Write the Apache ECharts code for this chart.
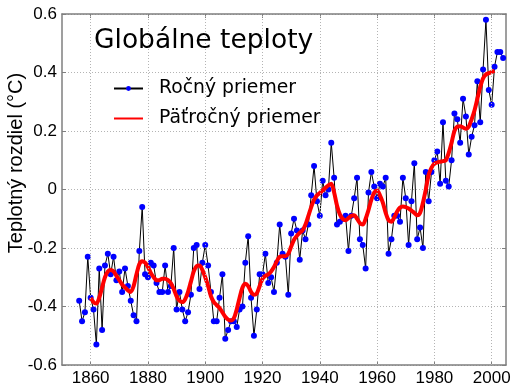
<!DOCTYPE html>
<html><head><meta charset="utf-8">
<script src="https://cdn.jsdelivr.net/npm/echarts@6/dist/echarts.min.js"></script>
<style>html,body{margin:0;padding:0;background:#fff}#c{width:525px;height:390px}</style>
</head><body><div id="c"></div>
<script>
const titleText = 'Globálne teploty';
const yAxisTitle = 'Teplotný rozdiel (°C)';
const seriesNames = ['Ročný priemer', 'Päťročný priemer'];
const xTickYears = [1860, 1880, 1900, 1920, 1940, 1960, 1980, 2000];

// annual means, 1856..2004
const annualStart = 1856;
const annual = [
  -0.38, -0.45, -0.42, -0.23,
  -0.37, -0.41, -0.53, -0.27, -0.48, -0.26, -0.22, -0.29, -0.23, -0.31,
  -0.28, -0.35, -0.27, -0.33, -0.38, -0.43, -0.45, -0.21, -0.06, -0.29,
  -0.30, -0.25, -0.26, -0.32, -0.35, -0.35, -0.26, -0.35, -0.33, -0.20,
  -0.41, -0.35, -0.41, -0.45, -0.42, -0.36, -0.20, -0.19, -0.34, -0.25,
  -0.19, -0.26, -0.35, -0.45, -0.45, -0.37, -0.29, -0.51, -0.48, -0.45,
  -0.45, -0.47, -0.41, -0.40, -0.25, -0.16, -0.37, -0.50, -0.41, -0.29,
  -0.29, -0.22, -0.32, -0.30, -0.35, -0.25, -0.12, -0.22, -0.23, -0.36,
  -0.15, -0.10, -0.14, -0.24, -0.14, -0.17, -0.12, -0.02, 0.08, -0.04,
  -0.09, 0.03, -0.02, 0.00, 0.16, 0.04, -0.12, -0.11, -0.10, -0.09,
  -0.21, -0.09, -0.03, 0.04, -0.17, -0.19, -0.27, -0.01, 0.06, 0.01,
  -0.03, 0.02, 0.01, 0.04, -0.22, -0.17, -0.09, -0.09, -0.11, 0.04,
  -0.03, -0.19, -0.04, 0.09, -0.17, -0.13, -0.20, 0.06, -0.04, 0.06,
  0.10, 0.13, 0.02, 0.23, 0.03, 0.01, 0.10, 0.26, 0.24, 0.16,
  0.31, 0.25, 0.12, 0.18, 0.22, 0.37, 0.23, 0.41, 0.58, 0.34,
  0.29, 0.42, 0.47, 0.47, 0.45
];

// five-year mean, 1860..2001
const smoothStart = 1860;
const fiveYear = [
  -0.37, -0.385, -0.39, -0.37, -0.335, -0.30, -0.28, -0.275, -0.28, -0.295,
  -0.31, -0.325, -0.335, -0.345, -0.35, -0.33, -0.29, -0.255, -0.245, -0.25,
  -0.265, -0.285, -0.30, -0.31, -0.31, -0.305, -0.305, -0.31, -0.32, -0.34,
  -0.365, -0.38, -0.385, -0.375, -0.35, -0.315, -0.28, -0.262, -0.26, -0.275,
  -0.30, -0.33, -0.365, -0.385, -0.395, -0.405, -0.42, -0.435, -0.445, -0.448,
  -0.44, -0.41, -0.37, -0.335, -0.322, -0.33, -0.35, -0.36, -0.355, -0.33,
  -0.305, -0.295, -0.29, -0.28, -0.265, -0.245, -0.23, -0.228, -0.228, -0.22,
  -0.195, -0.172, -0.158, -0.148, -0.14, -0.12, -0.09, -0.06, -0.035, -0.02,
  -0.012, -0.003, 0.006, 0.014, 0.02, -0.01, -0.055, -0.085, -0.10, -0.105,
  -0.098, -0.09, -0.088, -0.10, -0.115, -0.12, -0.10, -0.07, -0.035, -0.01,
  -0.003, -0.02, -0.045, -0.08, -0.105, -0.11, -0.095, -0.075, -0.062, -0.058,
  -0.06, -0.065, -0.072, -0.08, -0.088, -0.08, -0.045, 0.0, 0.05, 0.075,
  0.088, 0.093, 0.095, 0.097, 0.10, 0.125, 0.16, 0.20, 0.215, 0.216,
  0.212, 0.208, 0.215, 0.24, 0.27, 0.31, 0.35, 0.38, 0.393, 0.398,
  0.402, 0.406
];

const annualData = annual.map((v, i) => [annualStart + i, v]);
const fiveYearData = fiveYear.map((v, i) => [smoothStart + i, v]);

const axisColor = '#7f7f7f';
const gridStyle = { color: '#b4b4b4', width: 1, type: [1, 2] };
const tickFont = { color: '#000', fontSize: 17, fontFamily: 'Liberation Sans' };

const chart = echarts.init(document.getElementById('c'), null, { renderer: 'canvas' });
chart.setOption({
  animation: false,
  backgroundColor: '#fff',
  grid: { left: 62, right: 19, top: 14, bottom: 25, containLabel: false },
  title: {
    text: titleText, left: 94, top: 28, padding: 0,
    textStyle: { fontFamily: 'DejaVu Sans', fontSize: 26.5, fontWeight: 'normal', color: '#000' }
  },
  legend: {
    orient: 'vertical', left: 113, top: 79, padding: 0,
    itemWidth: 29, itemHeight: 6, itemGap: 11,
    textStyle: { fontFamily: 'DejaVu Sans', fontSize: 18.8, color: '#000', padding: [0, 0, 0, 11] },
    data: [
      { name: seriesNames[0] },
      { name: seriesNames[1], itemStyle: { color: 'rgba(0,0,0,0)', borderWidth: 0, opacity: 0 } }
    ]
  },
  xAxis: [
    {
      type: 'value', min: 1850, max: 2005, position: 'bottom',
      axisLine: { show: true, onZero: false, lineStyle: { color: axisColor, width: 1.5 } },
      axisTick: { show: true, inside: true, length: 4, customValues: xTickYears, lineStyle: { color: axisColor } },
      axisLabel: Object.assign({ customValues: xTickYears, margin: 5, formatter: v => String(v) }, tickFont),
      splitLine: { show: false }
    },
    {
      type: 'value', min: 1850, max: 2005, position: 'top',
      axisLine: { show: true, onZero: false, lineStyle: { color: axisColor, width: 1.5 } },
      axisTick: { show: true, inside: true, length: 4, customValues: xTickYears, lineStyle: { color: axisColor } },
      axisLabel: { show: false },
      splitLine: { show: false }
    }
  ],
  yAxis: [
    {
      type: 'value', min: -0.6, max: 0.6, interval: 0.2, position: 'left',
      axisLine: { show: true, onZero: false, lineStyle: { color: axisColor, width: 1.5 } },
      axisTick: { show: true, inside: true, length: 4, lineStyle: { color: axisColor } },
      axisLabel: Object.assign({ margin: 5 }, tickFont),
      splitLine: { show: true, lineStyle: gridStyle }
    },
    {
      type: 'value', min: -0.6, max: 0.6, interval: 0.2, position: 'right',
      axisLine: { show: true, onZero: false, lineStyle: { color: axisColor, width: 1.5 } },
      axisTick: { show: true, inside: true, length: 4, lineStyle: { color: axisColor } },
      axisLabel: { show: false },
      splitLine: { show: false }
    }
  ],
  graphic: [{
    type: 'text', x: 16, y: 163, rotation: Math.PI / 2,
    style: { text: yAxisTitle, font: '20px "Liberation Sans"', fill: '#000', align: 'center', verticalAlign: 'middle' }
  }],
  series: [
    {
      name: 'grid-x', type: 'line', data: [], z: 0, silent: true,
      markLine: {
        silent: true, symbol: 'none', label: { show: false },
        lineStyle: gridStyle, animation: false,
        data: xTickYears.map(v => ({ xAxis: v }))
      }
    },
    {
      name: seriesNames[0], type: 'line', data: annualData,
      symbol: 'circle', symbolSize: 6, showSymbol: true,
      itemStyle: { color: '#0000ff' },
      lineStyle: { color: '#000000', width: 1 },
      z: 2
    },
    {
      name: seriesNames[1], type: 'line', data: fiveYearData,
      symbol: 'none', showSymbol: false, smooth: 0.3,
      itemStyle: { color: '#ff0000' },
      lineStyle: { color: '#ff0000', width: 4 },
      z: 3
    }
  ]
});
</script>
</body></html>
